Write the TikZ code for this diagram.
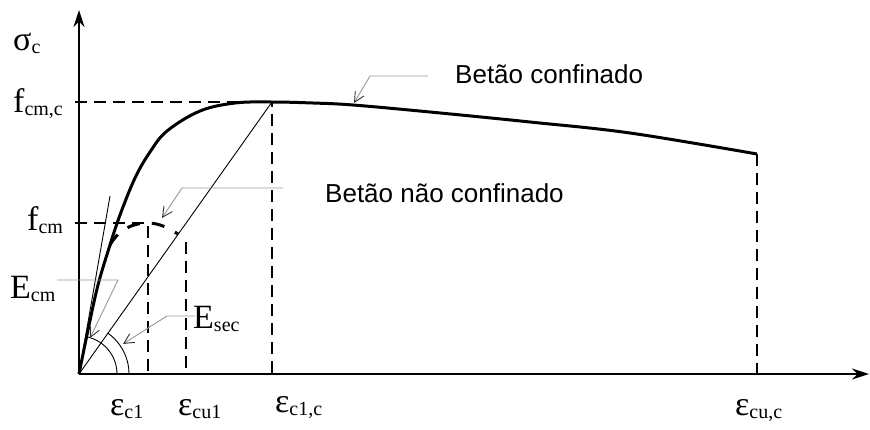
\documentclass[tikz,border=0pt]{standalone}
\usepackage{fontspec}
\setmainfont{Liberation Serif}
\newfontfamily\arialf{Liberation Sans}
\usetikzlibrary{arrows.meta}
\newcommand{\symlbl}[2]{{\fontsize{34}{34}\selectfont #1}{\fontsize{20}{20}\selectfont\raisebox{-3pt}{#2}}}
\begin{document}
\begin{tikzpicture}[x=1pt,y=-1pt,
  axis/.style={line width=1.4pt, -{Stealth[length=17pt,width=11pt]}},
  curve/.style={line width=3pt, line join=round},
  guide/.style={line width=1.4pt, dash pattern=on 12pt off 7pt},
  thinl/.style={line width=0.9pt},
  leader/.style={draw=black!40, line width=0.9pt, -{Straight Barb[length=10pt,width=10pt,color=black!80]}},
  lbl/.style={inner sep=0pt, anchor=base west},
  txt/.style={inner sep=0pt, anchor=base west, font=\arialf\fontsize{26}{26}\selectfont}]
\useasboundingbox (0,0) rectangle (870,429);
\fill[white] (0,0) rectangle (870,429);
% key points
\coordinate (O) at (79,374);
\coordinate (Ytop) at (79,10);
\coordinate (Xend) at (869,374);
\coordinate (peak) at (272,102);
\coordinate (endc) at (757,154);
\coordinate (peaku) at (148,223);
\coordinate (endu) at (178,234);
\coordinate (branch) at (110,245);
\coordinate (tan) at (110,196);
% dashed guides
\draw[guide] (75,102) -- (peak) -- (272,374);
\draw[guide] (75,223) -- (peaku) -- (148,374);
\draw[guide] (186,242) -- (186,374);
\draw[guide] (endc) -- (757,377);
% axes
\draw[axis] (O) -- (Ytop);
\draw[axis] (O) -- (Xend);
% thin lines and arcs
\draw[thinl] (O) -- (tan);
\draw[thinl] (O) -- (peak);
\draw[thinl] (117,374) arc[start angle=0, end angle=-80, radius=38];
\draw[thinl] (129,374) arc[start angle=0, end angle=-55, radius=50];
% confined curve
\draw[curve] plot[smooth, tension=0.6] coordinates {(79,374) (88,330) (98,285) (110,245) (120,215) (135,178) (150,152) (167,131) (200,111) (235,103) (272,102) (313,103) (353,105) (430,112) (530,122) (630,133) (757,154)};
% unconfined curve
\draw[curve, dash pattern=on 13pt off 12pt] (branch) .. controls (116,234) and (128,223) .. (peaku) .. controls (160,223) and (170,229) .. (endu);
% leaders
\coordinate (lc1) at (428,76); \coordinate (lc2) at (370,76); \coordinate (lc3) at (354,103);
\coordinate (ln1) at (283,188); \coordinate (ln2) at (182,188); \coordinate (ln3) at (162,218);
\coordinate (le1) at (57,280); \coordinate (le2) at (118,280); \coordinate (le3) at (90,338);
\coordinate (ls1) at (195,316); \coordinate (ls2) at (167,316); \coordinate (ls3) at (123,344);
\draw[leader] (lc1) -- (lc2) -- (lc3);
\draw[leader] (ln1) -- (ln2) -- (ln3);
\draw[leader] (le1) -- (le2) -- (le3);
\draw[leader] (ls1) -- (ls2) -- (ls3);
% labels
\node[lbl] (sig) at (13,50) {\symlbl{σ}{c}};
\node[lbl] (fcmc) at (13,112) {\symlbl{f}{cm,c}};
\node[lbl] (fcm) at (27,230) {\symlbl{f}{cm}};
\node[lbl] (Ecm) at (10,298) {\symlbl{E}{cm}};
\node[lbl] (Esec) at (193,328) {\symlbl{E}{sec}};
\node[lbl] (ec1) at (110,415) {\symlbl{ε}{c1}};
\node[lbl] (ecu1) at (178,415) {\symlbl{ε}{cu1}};
\node[lbl] (ec1c) at (275,412) {\symlbl{ε}{c1,c}};
\node[lbl] (ecuc) at (735,415) {\symlbl{ε}{cu,c}};
\node[txt] (tconf) at (455,83) {Betão confinado};
\node[txt] (tnconf) at (325,202) {Betão não confinado};
\end{tikzpicture}
\end{document}
